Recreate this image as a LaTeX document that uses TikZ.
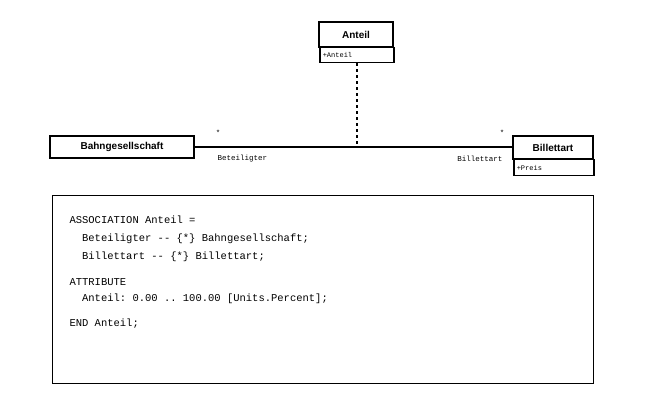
\documentclass[tikz,border=0pt]{standalone}
\usepackage{fontspec}
\setmainfont{Liberation Sans}
\setmonofont{Liberation Mono}
\usetikzlibrary{positioning}

\begin{document}
\begin{tikzpicture}[x=1pt, y=-1pt,
    classname/.style={draw, line width=1.5pt, rectangle, font=\bfseries\fontsize{10}{12}\selectfont, inner sep=2pt},
    attrbox/.style={draw, line width=1.5pt, rectangle, font=\ttfamily\fontsize{7}{8}\selectfont, inner sep=1.5pt, anchor=north west},
    role/.style={font=\ttfamily\fontsize{7.5}{9}\selectfont},
    codeline/.style={font=\ttfamily\fontsize{10.5}{12}\selectfont, anchor=west}]
    \useasboundingbox (0,0) rectangle (646,414);
    % Classes
    \node[classname, minimum width=74pt, minimum height=25pt] (anteil) at (356,34.5) {Anteil};
    \node[attrbox, minimum width=74pt, minimum height=15pt, text width=68pt] (anteilattr) at (319,47) {+Anteil};
    \node[classname, minimum width=144pt, minimum height=22pt] (bahn) at (122,147) {Bahngesellschaft};
    \node[classname, minimum width=80pt, minimum height=23pt] (billett) at (553,147.5) {Billettart};
    \node[attrbox, minimum width=80pt, minimum height=16pt, text width=74pt] (billettattr) at (513,159) {+Preis};

    % Association
    \coordinate (mid) at (357,147);
    \draw[line width=1.3pt] (bahn.east) -- (bahn.east -| billett.west);
    \draw[line width=1.3pt, dashed] (anteilattr.south -| mid) -- (mid);

    % Roles
    \node[role] (mult1) at (218,133) {*};
    \node[role, anchor=west] (role1) at (214,159) {Beteiligter};
    \node[role] (mult2) at (502,133) {*};
    \node[role, anchor=east] (role2) at (506,159) {Billettart};

    % Code
    \draw (52,195) rectangle (593,383);
    \node[codeline] (c1) at (66,220) {ASSOCIATION Anteil =};
    \node[codeline] (c2) at (66,239) {\ \ Beteiligter -- \{*\} Bahngesellschaft;};
    \node[codeline] (c3) at (66,257) {\ \ Billettart -- \{*\} Billettart;};
    \node[codeline] (c4) at (66,282) {ATTRIBUTE};
    \node[codeline] (c5) at (66,299) {\ \ Anteil: 0.00 .. 100.00 [Units.Percent];};
    \node[codeline] (c6) at (66,324) {END Anteil;};
\end{tikzpicture}
\end{document}
